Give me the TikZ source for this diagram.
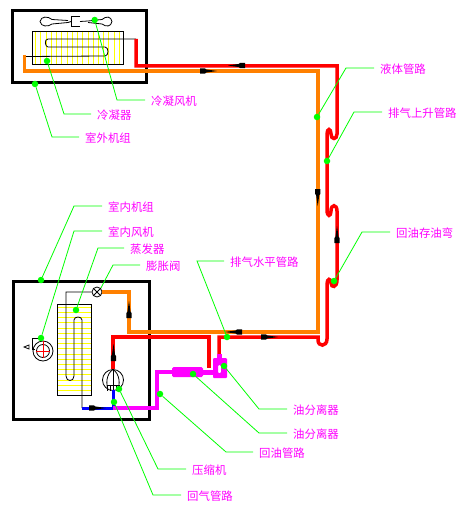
\documentclass[tikz,border=0pt]{standalone}
\usepackage{xcolor}
\usepackage{fontspec}
\setmainfont{Noto Sans CJK SC}
\usetikzlibrary{positioning, calc}
\definecolor{pipeorange}{HTML}{FF8000}
\definecolor{pipemag}{HTML}{FF00FF}
\definecolor{leadgreen}{HTML}{00FF00}
\definecolor{finyellow}{HTML}{FFFF00}

\begin{document}
\begin{tikzpicture}[
  x=1pt, y=-1pt,
  unitbox/.style={draw=black, line width=3pt},
  thin box/.style={draw=black, line width=0.8pt},
  fin/.style={draw=finyellow, line width=1pt},
  coil/.style={draw=black, line width=0.8pt},
  redpipe/.style={draw=red, line width=3.5pt},
  orangepipe/.style={draw=pipeorange, line width=3.2pt},
  magpipe/.style={draw=pipemag, line width=3.8pt},
  bluepipe/.style={draw=blue, line width=3pt},
  dot/.style={circle, fill=leadgreen, inner sep=0pt, minimum size=6.5pt},
  lbl/.style={anchor=west, inner xsep=6pt, inner ysep=0pt, text=pipemag,
              font=\fontsize{11.4}{12}\selectfont, text height=11pt, text depth=0pt},
  leader/.style={draw=leadgreen, line width=0.8pt},
  flowtip/.pic={\fill[black] (0,-2.7) -- (5,-2.7) -- (6,-1.6) -- (17,0) -- (6,1.6) -- (5,2.7) -- (0,2.7) -- cycle;},
]
\useasboundingbox (0,0) rectangle (474,516);

% outdoor unit
\draw[unitbox] (12,11) rectangle (146,83);
\foreach \i in {0,...,16} \draw[fin] ({35.7+5.23*\i},31) -- ({35.7+5.23*\i},64);
\draw[thin box] (32,31.5) rectangle (123.5,64.5);
\draw[coil] (136,39) -- (48,39) .. controls (44,39) and (45,47) .. (48,47) -- (105,47)
  .. controls (109,47) and (109,56) .. (105,56) -- (26,56.5);
\draw[coil] (68,20.5) -- (52,19.5) .. controls (48,16) and (41,16) .. (40,21.5)
  .. controls (41,27) and (48,27) .. (52,24) -- (68,22.5) -- (71,21.5);
\draw[coil] (80,16) -- (71,16) -- (71,26) -- (80,26);
\draw[coil] (80,21.5) -- (88,21) -- (102,19.5) .. controls (106,16) and (111,16) .. (112,21.5)
  .. controls (111,27) and (106,27) .. (102,24) -- (88,22.5);

% indoor unit
\draw[unitbox] (13.5,281) rectangle (149,419);
\foreach \i in {0,...,16} \draw[fin] (57,{307.3+5.2*\i}) -- (92,{307.3+5.2*\i});
\draw[thin box] (57.5,304.5) rectangle (91.5,395);
\node[circle, draw=black, fill=white, line width=0.8pt, inner sep=0pt, minimum size=10pt] (valve) at (97,292) {};
\draw[coil] (valve.north west) -- (valve.south east);
\draw[coil] (valve.north east) -- (valve.south west);
\draw[coil] (valve.west) -- (66,292) -- (66,376) .. controls (66,382) and (74,382) .. (74,376)
  -- (74,320) .. controls (74,316) and (82,316) .. (82,320) -- (82,408);

% indoor fan
\draw[coil] (43,351) circle (10);
\draw[coil] (43,351) circle (6.5);
\draw[red, line width=0.8pt] (36,351) -- (50,351);
\draw[red, line width=0.8pt] (43,341) -- (43,358);
\draw[coil] (41,338) -- (32,338) -- (32,349) -- (35,349);
\draw[coil] (29,345) -- (24,347) -- (29,349) -- cycle;

% compressor
\draw[coil] (113,380) circle (10.5);
\draw[coil] (113,369.5) .. controls (106,374) and (106,384) .. (108,390);
\draw[coil] (113,369.5) .. controls (120,374) and (120,384) .. (118,390);
\draw[coil] (113,369.5) -- (113,388);
\foreach \i in {107,110,...,119} \draw[coil] (\i,385) -- (\i,391);
\draw[coil] (107,385) -- (119,385);

% pipes
\draw[orangepipe] (24.5,55) -- (24.5,71) -- (318,71) -- (318,332) -- (129,332) -- (129,292) -- (valve.east);
\draw[redpipe] (136,39) -- (136,66) -- (337,66) -- (337,134)
  .. controls (337,140) and (331,140) .. (331,134) .. controls (331,128) and (327,128) .. (327,134)
  -- (327,210) .. controls (327,217) and (331,217) .. (331,211) .. controls (331,204) and (337,204) .. (337,211)
  -- (337,280) .. controls (337,288) and (331,288) .. (331,283) .. controls (331,278) and (327,278) .. (327,284)
  -- (327,339) .. controls (327,347) and (318,347) .. (318,340) -- (318,337) -- (219,337) -- (219,355);
\draw[redpipe] (113,369) -- (113,337) -- (209,337) -- (209,368);
\draw[bluepipe] (82,408) -- (113,408) -- (113,390);
\draw[magpipe] (113,408) -- (157,408) -- (157,372) -- (173,372);

% oil separators
\fill[pipemag, rounded corners=1.5pt] (172,367) rectangle (203,377);
\fill[pipemag] (203,369.5) rectangle (213,374.5);
\fill[pipemag, even odd rule, rounded corners=1pt] (213,358) rectangle (227,378) (218,365) rectangle (221,373);
\fill[pipemag] (217,353.5) rectangle (222,358);

% flow arrows
\pic[rotate=180] at (245,65.5) {flowtip};
\pic at (200,71) {flowtip};
\pic[rotate=-90] at (317.7,189) {flowtip};
\pic[rotate=90] at (337,243) {flowtip};
\pic[rotate=180] at (242,332) {flowtip};
\pic at (261,337) {flowtip};
\pic[rotate=90] at (129,318) {flowtip};
\pic[rotate=90] at (113.5,361) {flowtip};
\pic at (89,408) {flowtip};

% callouts
\node[dot] (dFan)  at (94.7,20) {};
\node[dot] (dCond) at (47,61) {};
\node[dot] (dOut)  at (35,84) {};
\node[dot] (dLiq)  at (317,117) {};
\node[dot] (dRise) at (327,161) {};
\node[dot] (dTrap) at (334,281) {};
\node[dot] (dIn)   at (41,280) {};
\node[dot] (dBlow) at (41,338) {};
\node[dot] (dEvap) at (76,310) {};
\node[dot] (dHori) at (227,337) {};
\node[dot] (dSepA) at (224,366) {};
\node[dot] (dSepB) at (193,374) {};
\node[dot] (dBack) at (160,394) {};
\node[dot] (dComp) at (119,389) {};
\node[dot] (dSuck) at (114,402) {};

\node[lbl] (lFan)  at (145,100) {冷凝风机};
\node[lbl] (lCond) at (91,114)  {冷凝器};
\node[lbl] (lOut)  at (79,137)  {室外机组};
\node[lbl] (lLiq)  at (374,68)  {液体管路};
\node[lbl] (lRise) at (382,112) {排气上升管路};
\node[lbl] (lTrap) at (390,232) {回油存油弯};
\node[lbl] (lIn)   at (102,206) {室内机组};
\node[lbl] (lBlow) at (102,231) {室内风机};
\node[lbl] (lEvap) at (124,248) {蒸发器};
\node[lbl] (lExp)  at (140,265) {膨胀阀};
\node[lbl] (lHori) at (224,261) {排气水平管路};
\node[lbl] (lSepA) at (287,409) {油分离器};
\node[lbl] (lSepB) at (287,433) {油分离器};
\node[lbl] (lBack) at (253,452) {回油管路};
\node[lbl] (lComp) at (186,469) {压缩机};
\node[lbl] (lSuck) at (181,495) {回气管路};

\draw[leader] (dFan) -- (117,100) -- (lFan.west);
\draw[leader] (dCond) -- (64,114) -- (lCond.west);
\draw[leader] (dOut) -- (52,137) -- (lOut.west);
\draw[leader] (dLiq) -- (346,68) -- (lLiq.west);
\draw[leader] (dRise) -- (354,112) -- (lRise.west);
\draw[leader] (dTrap) -- (362,232) -- (lTrap.west);
\draw[leader] (dIn) -- (74,206) -- (lIn.west);
\draw[leader] (dBlow) -- (74,231) -- (lBlow.west);
\draw[leader] (dEvap) -- (98,248) -- (lEvap.west);
\draw[leader] (valve.north east) -- (113,265) -- (lExp.west);
\draw[leader] (dHori) -- (197,261) -- (lHori.west);
\draw[leader] (dSepA) -- (259,409) -- (lSepA.west);
\draw[leader] (dSepB) -- (259,433) -- (lSepB.west);
\draw[leader] (dBack) -- (226,452) -- (lBack.west);
\draw[leader] (dComp) -- (158,469) -- (lComp.west);
\draw[leader] (dSuck) -- (153,495) -- (lSuck.west);
\end{tikzpicture}
\end{document}
